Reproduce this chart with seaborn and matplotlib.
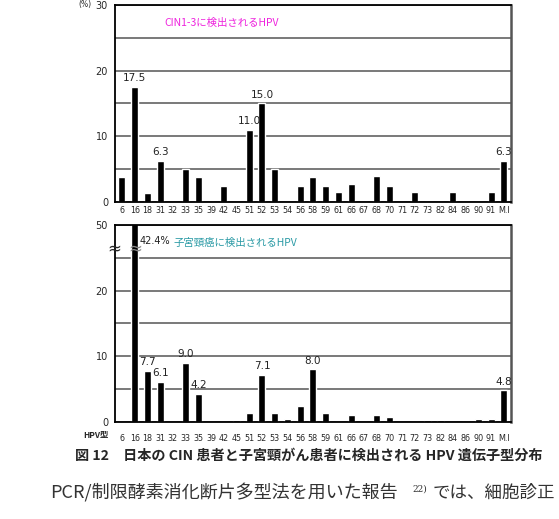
import numpy as np
import pandas as pd
import matplotlib
matplotlib.use('Agg')
import matplotlib.pyplot as plt
import seaborn as sns

sns.set_style('white')
plt.rcParams['font.family'] = ['Noto Sans CJK JP', 'DejaVu Sans']

# HPV types on the x axis
hpv_types = ['6', '16', '18', '31', '32', '33', '35', '39', '42', '45', '51', '52', '53', '54', '56',
             '58', '59', '61', '66', '67', '68', '70', '71', '72', '73', '82', '84', '86', '90', '91', 'M.I']

# % detected in CIN1-3
cin_vals = [3.8, 17.5, 1.3, 6.3, 0, 5.0, 3.8, 0, 2.5, 0, 11.0, 15.0, 5.0, 0, 2.5,
            3.8, 2.5, 1.5, 2.7, 0, 4.0, 2.5, 0, 1.5, 0, 0, 1.5, 0, 0, 1.5, 6.3]
# % detected in cervical cancer
cancer_vals = [0, 42.4, 7.7, 6.1, 0, 9.0, 4.2, 0, 0, 0.3, 1.4, 7.1, 1.4, 0.5, 2.4,
               8.0, 1.4, 0, 1.1, 0, 1.1, 0.7, 0, 0, 0.3, 0.3, 0, 0, 0.5, 0.5, 4.8]

# which bars get a number above them
cin_labels = {'16': '17.5', '31': '6.3', '51': '11.0', '52': '15.0', 'M.I': '6.3'}
cancer_labels = {'18': '7.7', '31': '6.1', '33': '9.0', '35': '4.2', '52': '7.1', '58': '8.0', 'M.I': '4.8'}

df = pd.DataFrame({'type': hpv_types, 'cin': cin_vals, 'cancer': cancer_vals})

fig = plt.figure(figsize=(5.59, 5.19), dpi=100)
ax1 = fig.add_axes([0.2057, 0.6108, 0.708, 0.3796])
ax2 = fig.add_axes([0.2057, 0.1869, 0.708, 0.3796])


def style_axis(ax, pad):
    ax.set_ylim(0, 30)
    ax.set_xlim(-0.55, len(hpv_types) - 0.45)
    ax.set_yticks([0, 5, 10, 15, 20, 25, 30])
    ax.grid(axis='y', color='#555555', linewidth=1.1)
    ax.set_axisbelow(True)
    for s in ['left', 'bottom', 'top']:
        ax.spines[s].set_color('black')
        ax.spines[s].set_linewidth(1.3)
    ax.spines['right'].set_color('#555555')
    ax.spines['right'].set_linewidth(1.8)
    ax.tick_params(axis='both', length=0)
    ax.tick_params(axis='x', labelsize=5.8, pad=pad)
    ax.tick_params(axis='y', labelsize=7, pad=5)
    ax.set_xlabel('')
    ax.set_ylabel('')
    for lab in ax.get_xticklabels():
        lab.set_family('DejaVu Sans')


sns.barplot(data=df, x='type', y='cin', color='black', width=0.55, ax=ax1, saturation=1)
style_axis(ax1, 3)
ax1.set_yticklabels(['0', '', '10', '', '20', '', '30'], family='DejaVu Sans')

sns.barplot(data=df, x='type', y='cancer', color='black', width=0.55, ax=ax2, saturation=1)
style_axis(ax2, 9)
ax2.set_yticklabels(['0', '', '10', '', '20', '', '50'], family='DejaVu Sans')

for i, t in enumerate(hpv_types):
    if t in cin_labels:
        ax1.text(i, cin_vals[i] + 0.6, cin_labels[t], ha='center', va='bottom', fontsize=7.5,
                 family='DejaVu Sans', color='#222222')
    if t in cancer_labels:
        ax2.text(i, cancer_vals[i] + 0.6, cancer_labels[t], ha='center', va='bottom', fontsize=7.5,
                 family='DejaVu Sans', color='#222222')

# broken bar for type 16
ax2.text(1.35, 27.6, '42.4%', ha='left', va='center', fontsize=7, family='DejaVu Sans', color='#222222')
ax2.text(-0.6, 26.4, '≈', ha='center', va='center', fontsize=12, family='DejaVu Sans', clip_on=False)
ax2.text(1, 26.4, '≈', ha='center', va='center', fontsize=12, family='DejaVu Sans', color='#888888')

ax1.text(0.126, 0.91, 'CIN1-3に検出されるHPV', transform=ax1.transAxes, fontsize=7.5, color='#ee22dd',
         ha='left', va='center')
ax2.text(0.147, 0.91, '子宮頸癌に検出されるHPV', transform=ax2.transAxes, fontsize=7.5, color='#2a9aa5',
         ha='left', va='center')

fig.text(78 / 559, 1 - 5 / 519, '(%)', fontsize=5.5, ha='left', va='center', family='DejaVu Sans')
fig.text(83 / 559, 1 - 435 / 519, 'HPV型', fontsize=6, ha='left', va='center', weight='bold')

fig.text(75 / 559, 1 - 456 / 519, '図 12　日本の CIN 患者と子宮頸がん患者に検出される HPV 遺伝子型分布',
         fontsize=10.2, weight='bold', ha='left', va='center')

# body text below the figure
body_y = 1 - 493 / 519
fig.text(50 / 559, body_y, 'PCR/制限酵素消化断片多型法を用いた報告', fontsize=13,
         ha='left', va='center', color='#333333')
fig.text(412 / 559, body_y + 0.008, '22)', fontsize=6.5, ha='left', va='center',
         family='DejaVu Serif', color='#333333')
fig.text(433 / 559, body_y, 'では、細胞診正', fontsize=12.6, ha='left', va='center', color='#333333')

fig.savefig('out.png', dpi=100)
